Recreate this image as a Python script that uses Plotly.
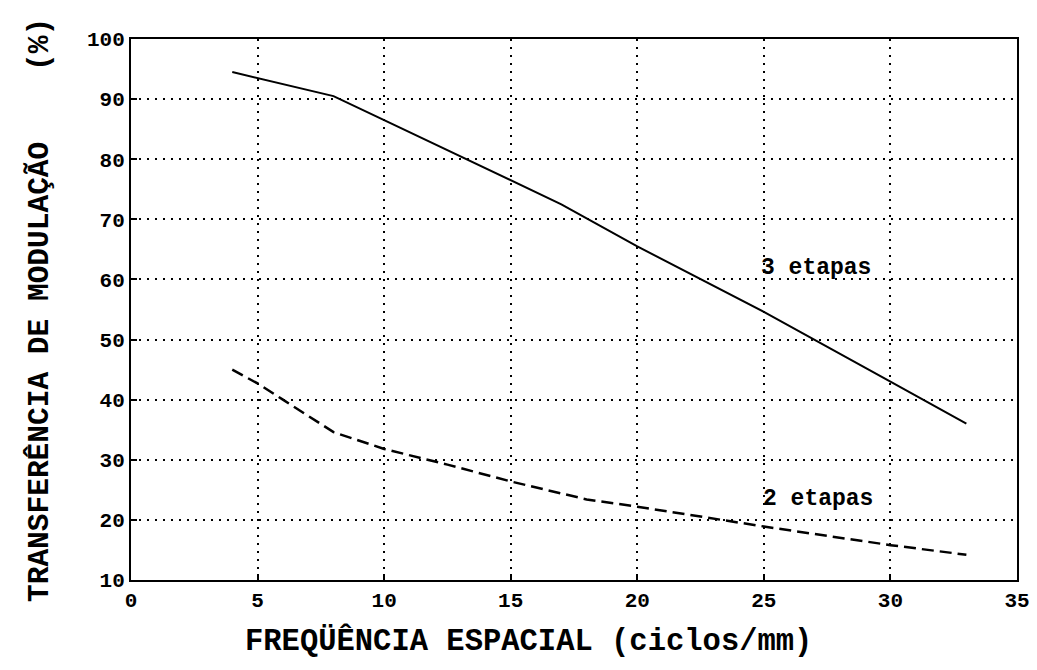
import plotly.graph_objects as go

# Data
freq_3 = [4, 5, 8, 10, 13, 15, 17, 20, 25, 30, 33]
mtf_3 = [94.5, 93.5, 90.5, 86.5, 80.5, 76.5, 72.5, 65.5, 54.6, 43.0, 36.0]

freq_2 = [4, 5, 6, 8, 10, 12.5, 15, 18, 20, 25, 30, 33]
mtf_2 = [45.0, 42.7, 40.0, 34.6, 31.8, 29.2, 26.4, 23.4, 22.2, 18.9, 15.8, 14.2]

x_ticks = [0, 5, 10, 15, 20, 25, 30, 35]
y_ticks = [10, 20, 30, 40, 50, 60, 70, 80, 90, 100]

labels = ["3 etapas", "2 etapas"]
label_x = [27.06, 27.13]
label_y = [61.9, 23.4]

x_title = "FREQÜÊNCIA ESPACIAL (ciclos/mm)"
y_title = "TRANSFERÊNCIA DE MODULAÇÃO\u00a0\u00a0\u00a0\u00a0(%)"

FONT = "Liberation Mono"
PW, PH = 886, 541  # plot size in px

fig = go.Figure()
fig.add_trace(go.Scatter(x=freq_3, y=mtf_3, mode="lines", name=labels[0],
                         line=dict(color="black", width=2)))
fig.add_trace(go.Scatter(x=freq_2, y=mtf_2, mode="lines", name=labels[1],
                         line=dict(color="black", width=2.5, dash="12px,6px")))

for t, lx, ly in zip(labels, label_x, label_y):
    fig.add_annotation(x=lx, y=ly, text=t, showarrow=False, xref="x", yref="y",
                       xanchor="center", yanchor="middle",
                       font=dict(family=FONT, size=23, color="black", weight="bold"))

fig.add_annotation(text=x_title, showarrow=False,
                   xref="x domain", yref="y domain",
                   x=(528 - 131) / PW, y=(580 - 641) / PH,
                   xanchor="center", yanchor="middle",
                   font=dict(family=FONT, size=30.5, color="black", weight="bold"))
fig.add_annotation(text=y_title, showarrow=False, textangle=-90,
                   xref="x domain", yref="y domain",
                   x=(40 - 131) / PW, y=(580 - 310) / PH,
                   xanchor="center", yanchor="middle",
                   font=dict(family=FONT, size=29.5, color="black", weight="bold"))

axis_common = dict(
    showline=True, linecolor="black", linewidth=2, mirror=True,
    ticks="inside", ticklen=6, tickcolor="black", tickwidth=2,
    showgrid=True, gridcolor="black", gridwidth=1.5, griddash="2px,6px",
    zeroline=False,
    tickfont=dict(family=FONT, size=21, color="black", weight="bold"),
)

fig.update_xaxes(range=[0, 35], tickvals=x_ticks, ticktext=[str(v) for v in x_ticks], **axis_common)
fig.update_yaxes(range=[10, 100], tickvals=y_ticks, ticktext=[str(v) for v in y_ticks], **axis_common)

fig.update_layout(
    width=1037, height=670,
    margin=dict(l=123, r=28, t=31, b=98, autoexpand=False),
    paper_bgcolor="white", plot_bgcolor="white",
    showlegend=False,
)

fig.write_html("out.html")
